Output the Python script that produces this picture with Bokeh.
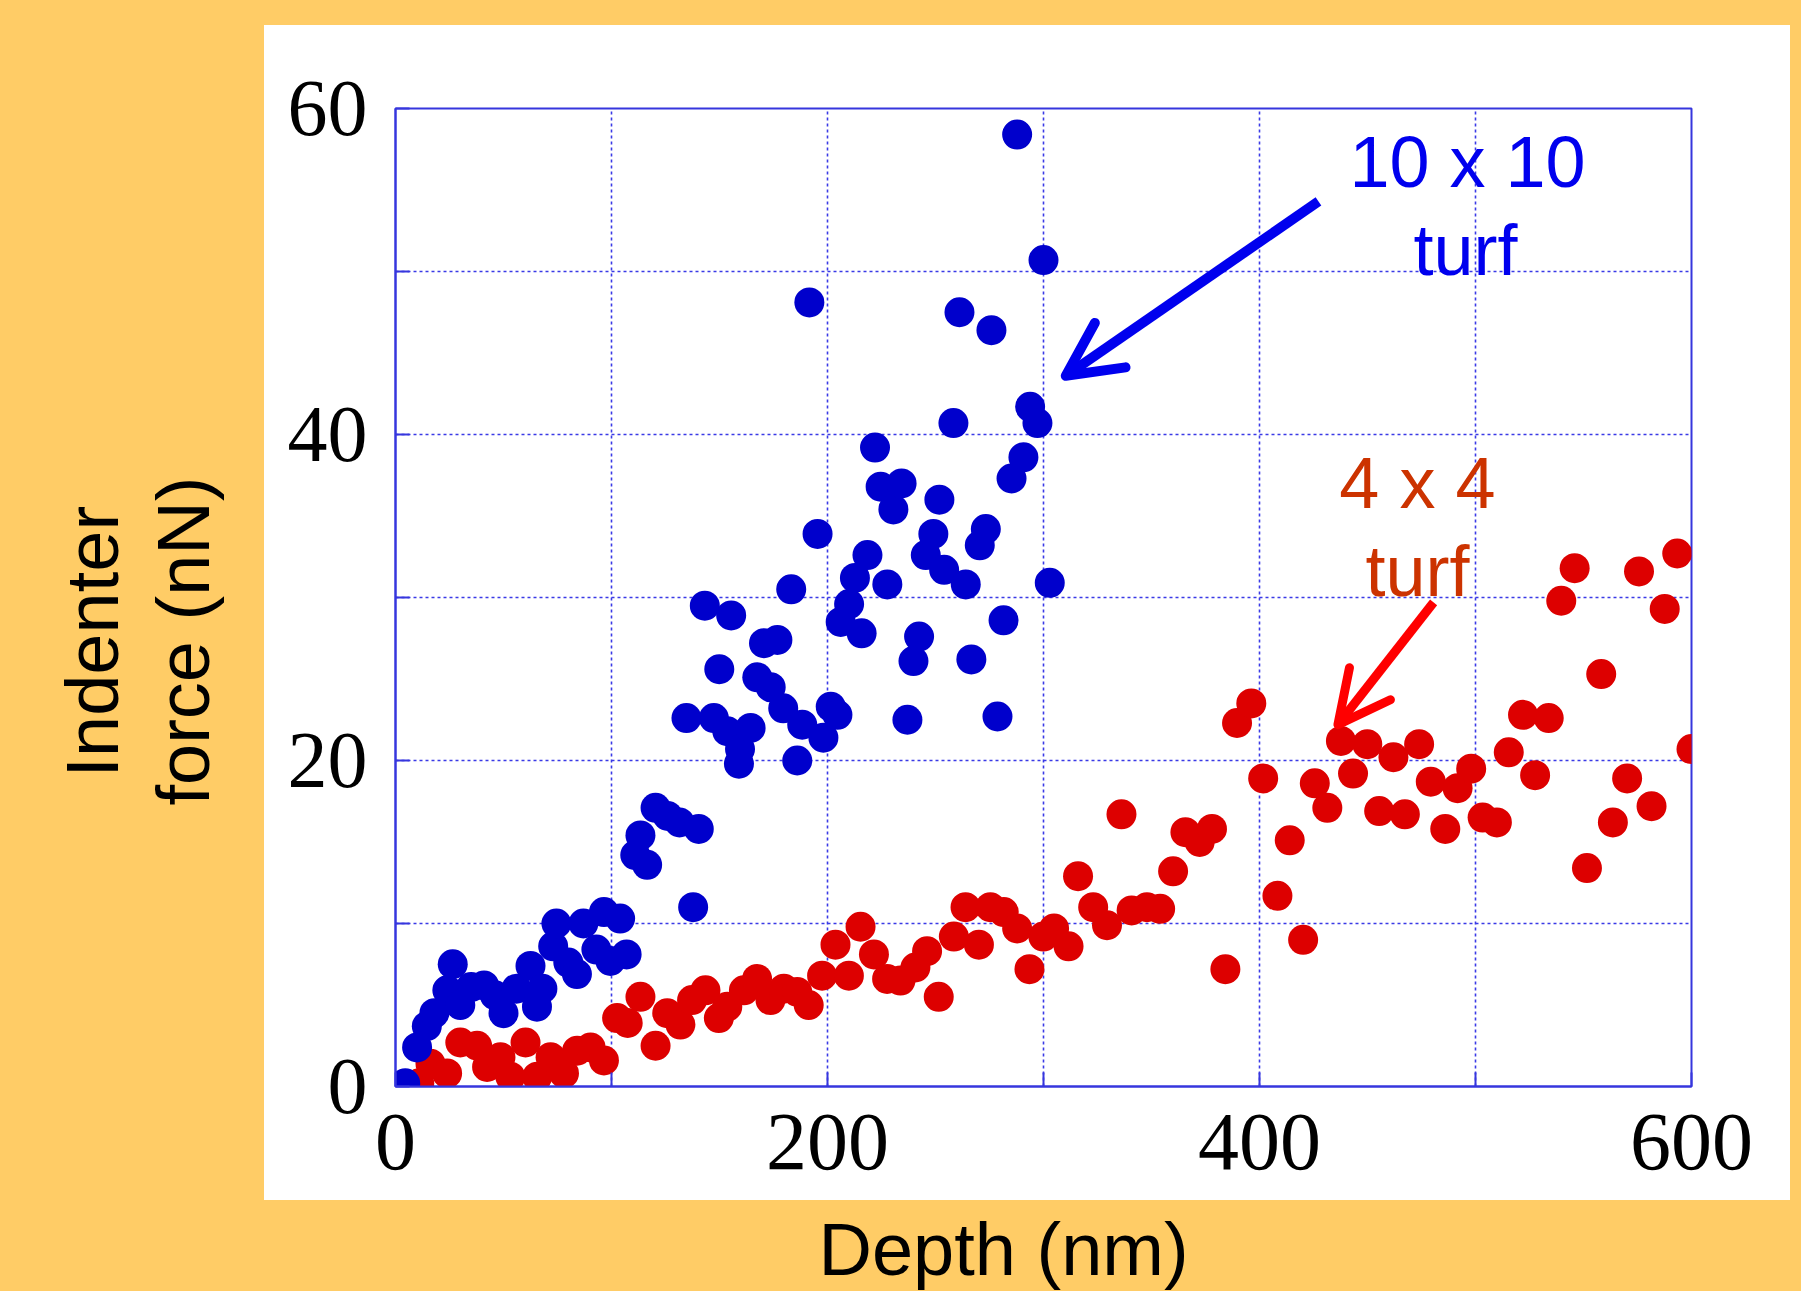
import numpy as np
from bokeh.plotting import figure
from bokeh.models import (ColumnDataSource, FixedTicker, Label, Arrow, OpenHead, Title)
from bokeh.embed import file_html
from bokeh.resources import INLINE

# ---------------- data ----------------
blue_depth = [4.5, 10, 14.5, 18, 24, 26.5, 30, 35, 41, 46, 50, 56, 62.5, 65.5, 68,
              73, 74.5, 80, 84, 87, 93, 96.5, 99.5, 104, 107,
              111, 113.4, 116.5, 120.4, 126, 131.5, 140.4, 137.8,
              134.7, 143.2, 147.4, 149.9, 153.6, 155.4, 159.5, 159, 164.4, 167.5,
              170.6, 173.7, 176.8, 179.5, 183.2, 186, 188.3, 191.6, 195.4, 198.1,
              201.5, 204.6, 206.1, 210, 212.7, 215.8, 218.5, 222, 224.6, 227.7,
              230.5, 234.3, 237, 239.8, 242.4, 245.5, 249, 251.8, 254, 258.3,
              261.1, 264, 266.6, 270.5, 273.3, 275.9, 278.7, 281.5, 285.2, 287.8,
              290.7, 293.8, 297.2, 300, 302.9]
blue_force = [0.2, 2.4, 3.7, 4.5, 5.9, 7.5, 5.0, 6.1, 6.2, 5.6, 4.5, 6.0, 7.4, 4.9, 6.0,
              8.6, 10.0, 7.6, 6.9, 10.0, 8.4, 10.7, 7.7, 10.3, 8.1,
              14.2, 15.4, 13.6, 17.1, 16.6, 16.2, 15.8, 11.0,
              22.6, 29.5, 22.6, 25.6, 21.8, 28.9, 20.7, 19.8, 22.0, 25.1,
              27.2, 24.5, 27.4, 23.2, 30.5, 20.0, 22.2, 48.1, 33.9, 21.4,
              23.3, 22.8, 28.5, 29.6, 31.2, 27.8, 32.6, 39.2, 36.8, 30.8,
              35.4, 37.0, 22.5, 26.1, 27.6, 32.6, 33.9, 36.0, 31.7, 40.7,
              47.5, 30.8, 26.2, 33.2, 34.2, 46.4, 22.7, 28.6, 37.3, 58.4,
              38.6, 41.7, 40.7, 50.7, 30.9]

red_depth = [11, 16.2, 23.9, 30, 37.8, 42.4, 48.6, 53.2, 60.2, 65.6, 71.8, 78, 84.1,
             90.3, 96.5, 102.6, 107.5, 113.4, 120.4, 125.8, 131.9, 137.3, 143.5,
             149.7, 153.6, 161.3, 167.4, 173.6, 179.8, 186, 191.3, 197.5, 203.7,
             209.9, 215.3, 221.5, 227.6, 233.8, 240.7, 246.1, 251.5, 258.5, 263.9,
             270.1, 275.4, 281.6, 287.8, 293.5, 299.9, 304.9, 311.6, 316, 323,
             329.4, 336.1, 340.8, 347.9, 354, 360, 365.7, 372.3, 378, 384.2, 389.6,
             396.2, 401.7, 408.3, 414, 420.2, 425.6, 431.4, 437.7, 443.3, 449.9,
             455.4, 462, 467.3, 473.9, 479.3, 486, 491.7, 498, 503.3, 509.9, 515.4,
             522, 527.6, 533.9, 539.7, 545.9, 551.6, 558.2, 563.6, 570.2, 575.7,
             581.5, 587.6, 593.4, 600]
red_force = [0.2, 1.4, 0.8, 2.7, 2.5, 1.2, 1.8, 0.6, 2.7, 0.6, 1.8, 0.8, 2.2,
             2.4, 1.6, 4.2, 3.9, 5.5, 2.5, 4.5, 3.8, 5.3, 5.9,
             4.2, 4.9, 5.9, 6.6, 5.3, 6.0, 5.8, 5.0, 6.8, 8.7,
             6.8, 9.8, 8.1, 6.6, 6.5, 7.3, 8.3, 5.5, 9.2, 11.0,
             8.7, 11.0, 10.7, 9.7, 7.2, 9.2, 9.7, 8.6, 12.9, 11.0,
             9.9, 16.7, 10.8, 11.0, 10.9, 13.2, 15.6, 15.0, 15.8, 7.2, 22.3,
             23.5, 18.9, 11.7, 15.1, 9.0, 18.6, 17.1, 21.2, 19.2, 21.0,
             16.9, 20.2, 16.7, 21.0, 18.7, 15.8, 18.3, 19.5, 16.5, 16.2, 20.5,
             22.8, 19.1, 22.6, 29.8, 31.8, 13.4, 25.3, 16.2, 18.9, 31.6,
             17.2, 29.3, 32.7, 20.7]

x_ticks = [0, 100, 200, 300, 400, 500, 600]
x_tick_labels = {0: "0", 100: "", 200: "200", 300: "", 400: "400", 500: "", 600: "600"}
y_ticks = [0, 10, 20, 30, 40, 50, 60]
y_tick_labels = {0: "0", 10: "", 20: "20", 30: "", 40: "40", 50: "", 60: "60"}
x_title = "Depth (nm)"
y_title_lines = ["Indenter", "force (nN)"]
blue_name = ["10 x 10", "turf"]
red_name = ["4 x 4", "turf"]

# ---------------- styles ----------------
ORANGE = "#FFCC66"
BLUE_DOT = "#0000CC"
RED_DOT = "#DD0000"
FRAME_BLUE = "#3636DD"
SANS = "Liberation Sans"
SERIF = "Liberation Serif"

W, H = 1801, 1291
p = figure(width=W, height=H, x_range=(0, 600), y_range=(0, 60),
           output_backend="svg", toolbar_location=None,
           min_border_left=395, min_border_right=110,
           min_border_top=108, min_border_bottom=205)
# orange page with a white panel behind the axes (CSS background, canvas border transparent)
p.border_fill_color = None
p.styles = {"background": "linear-gradient(#ffffff, #ffffff) 264px 25px / 1526px 1175px no-repeat, " + ORANGE}
p.background_fill_color = "white"
p.outline_line_color = FRAME_BLUE
p.outline_line_width = 2

for ax, ticks, labels, fs in ((p.xaxis[0], x_ticks, x_tick_labels, "82px"),
                              (p.yaxis[0], y_ticks, y_tick_labels, "80px")):
    ax.ticker = FixedTicker(ticks=ticks)
    ax.major_label_overrides = labels
    ax.major_label_text_font = SERIF
    ax.major_label_text_font_size = fs
    ax.major_label_text_color = "black"
    ax.axis_line_color = FRAME_BLUE
    ax.axis_line_width = 2
    ax.major_tick_in = 14
    ax.major_tick_out = 0
    ax.major_tick_line_color = FRAME_BLUE
    ax.major_tick_line_width = 2
    ax.minor_tick_line_color = None
p.xaxis.major_label_standoff = 28
p.yaxis.major_label_standoff = 28
# spacers between tick labels and the titles
p.yaxis.axis_label = " "
p.yaxis.axis_label_text_font_size = "1px"
p.yaxis.axis_label_standoff = 56
p.xaxis.axis_label = " "
p.xaxis.axis_label_text_font_size = "1px"
p.xaxis.axis_label_standoff = 30

# y title: two lines, each placed at its own position along the axis
p.add_layout(Title(text=y_title_lines[1], align="left", offset=281, standoff=0,
                   vertical_align="bottom", text_font=SANS, text_font_style="normal",
                   text_font_size="74px", text_color="black"), "left")
p.add_layout(Title(text=y_title_lines[0], align="left", offset=309, standoff=12,
                   vertical_align="bottom", text_font=SANS, text_font_style="normal",
                   text_font_size="74px", text_color="black"), "left")

# x title
p.add_layout(Title(text=x_title, align="left", offset=423, standoff=0,
                   text_font=SANS, text_font_style="normal",
                   text_font_size="74px", text_color="black"), "below")

p.xgrid.ticker = FixedTicker(ticks=[100, 200, 300, 400, 500])
p.ygrid.ticker = FixedTicker(ticks=[10, 20, 30, 40, 50])
for g in (p.xgrid[0], p.ygrid[0]):
    g.grid_line_color = "#3A3AE6"
    g.grid_line_width = 1.6
    g.grid_line_dash = "3 3"

red_src = ColumnDataSource(dict(x=red_depth, y=red_force))
blue_src = ColumnDataSource(dict(x=blue_depth, y=blue_force))
p.scatter("x", "y", source=red_src, size=30, fill_color=RED_DOT, line_color=None)
p.scatter("x", "y", source=blue_src, size=30, fill_color=BLUE_DOT, line_color=None)

# annotations: series names
def add_text(x, y, txt, color, size="72px", font=SANS):
    p.add_layout(Label(x=x, y=y, text=txt, text_color=color, text_font=font,
                       text_font_size=size, text_align="center",
                       text_baseline="alphabetic"))

add_text(496.3, 56.7, blue_name[0], "#0000EE")
add_text(495.4, 51.3, blue_name[1], "#0000EE")
add_text(473.1, 37.0, red_name[0], "#CC3300")
add_text(473.1, 31.6, red_name[1], "#CC3300")

p.add_layout(Arrow(x_start=427.3, y_start=54.3, x_end=310.3, y_end=43.6,
                   line_color="#0000EE", line_width=10,
                   end=OpenHead(size=54, line_color="#0000EE", line_width=10,
                                line_cap="round", line_join="round")))
p.add_layout(Arrow(x_start=480.6, y_start=29.7, x_end=436.3, y_end=22.2,
                   line_color="#FF0000", line_width=9,
                   end=OpenHead(size=52, line_color="#FF0000", line_width=9,
                                line_cap="round", line_join="round")))

open("out.html", "w").write(file_html(p, INLINE))
